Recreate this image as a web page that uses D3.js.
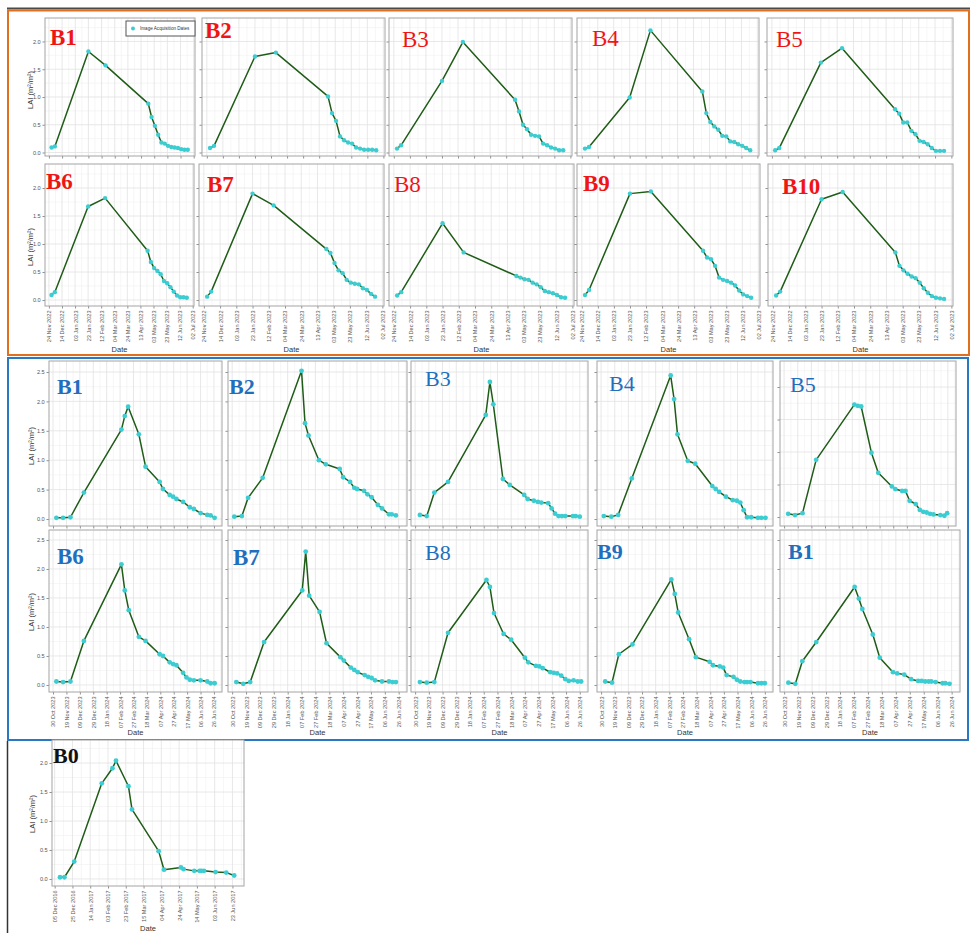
<!DOCTYPE html>
<html><head><meta charset="utf-8">
<script src="https://cdn.jsdelivr.net/npm/d3@7"></script>
<style>body{margin:0;background:#fff}svg{display:block}</style>
</head><body>
<svg id="c" width="970" height="933"></svg>
<script>
// ---------- DATA ----------
// Season 2022-2023 (red panels): shared image acquisition dates
const topDates = ["2022-11-28","2022-12-03","2023-01-23","2023-02-18","2023-04-24","2023-04-29","2023-05-04","2023-05-09","2023-05-14","2023-05-19","2023-05-24","2023-05-29","2023-06-03","2023-06-08","2023-06-13","2023-06-18","2023-06-23"];
const topTicks = ["2022-11-24","2022-12-14","2023-01-03","2023-01-23","2023-02-12","2023-03-04","2023-03-24","2023-04-13","2023-05-03","2023-05-23","2023-06-12","2023-07-02"];
const topB1  = [0.09,0.11,1.82,1.57,0.88,0.64,0.48,0.32,0.18,0.16,0.12,0.10,0.09,0.08,0.06,0.05,0.05];
const topB2  = [0.08,0.12,1.73,1.80,1.01,0.71,0.57,0.29,0.22,0.18,0.16,0.09,0.07,0.05,0.05,0.05,0.04];
const topB3  = [0.07,0.13,1.29,1.99,0.95,0.74,0.50,0.42,0.32,0.30,0.29,0.16,0.13,0.09,0.07,0.04,0.04];
const topB4  = [0.07,0.10,0.99,2.20,1.10,0.71,0.55,0.47,0.41,0.30,0.29,0.20,0.19,0.15,0.12,0.08,0.04];
const topB5  = [0.04,0.08,1.62,1.88,0.78,0.70,0.54,0.54,0.39,0.33,0.21,0.19,0.15,0.08,0.03,0.03,0.03];
const topB6  = [0.09,0.14,1.67,1.82,0.88,0.68,0.57,0.52,0.46,0.34,0.30,0.23,0.15,0.08,0.05,0.05,0.04];
const topB7  = [0.06,0.15,1.90,1.69,0.91,0.84,0.66,0.53,0.48,0.36,0.31,0.29,0.28,0.21,0.18,0.11,0.06];
const topB8  = [0.08,0.14,1.37,0.85,0.43,0.40,0.37,0.36,0.31,0.28,0.23,0.16,0.14,0.12,0.09,0.05,0.04];
const topB9  = [0.09,0.18,1.90,1.94,0.88,0.76,0.73,0.61,0.40,0.36,0.34,0.31,0.26,0.17,0.10,0.07,0.04];
const topB10 = [0.08,0.15,1.80,1.93,0.85,0.61,0.53,0.47,0.42,0.39,0.31,0.21,0.13,0.07,0.04,0.03,0.02];

// Season 2023-2024 (blue panels)
const midTicks = ["2023-10-30","2023-11-19","2023-12-09","2023-12-29","2024-01-18","2024-02-07","2024-02-27","2024-03-18","2024-04-07","2024-04-27","2024-05-17","2024-06-06","2024-06-26"];
const midB1Dates = ["2023-11-04","2023-11-14","2023-11-25","2023-12-15","2024-02-09","2024-02-14","2024-02-19","2024-03-06","2024-03-16","2024-04-06","2024-04-11","2024-04-21","2024-04-26","2024-05-01","2024-05-11","2024-05-21","2024-05-27","2024-06-06","2024-06-16","2024-06-21","2024-06-27"];
const midB1 = [0.02,0.02,0.03,0.45,1.52,1.75,1.91,1.44,0.89,0.63,0.51,0.41,0.38,0.34,0.29,0.20,0.17,0.10,0.07,0.06,0.02];
const midB2Dates = ["2023-11-02","2023-11-13","2023-11-22","2023-12-13","2024-02-07","2024-02-12","2024-02-17","2024-03-03","2024-03-13","2024-04-02","2024-04-07","2024-04-17","2024-04-23","2024-04-27","2024-05-07","2024-05-12","2024-05-18","2024-05-27","2024-06-02","2024-06-12","2024-06-16","2024-06-22"];
const midB2 = [0.04,0.05,0.36,0.70,2.52,1.63,1.42,1.00,0.93,0.85,0.71,0.63,0.53,0.51,0.48,0.42,0.37,0.24,0.18,0.08,0.08,0.06];
const midB3Dates = ["2023-11-06","2023-11-16","2023-11-27","2023-12-17","2024-02-10","2024-02-16","2024-02-21","2024-03-06","2024-03-16","2024-04-06","2024-04-11","2024-04-20","2024-04-26","2024-05-01","2024-05-11","2024-05-16","2024-05-21","2024-05-26","2024-05-31","2024-06-05","2024-06-16","2024-06-20","2024-06-26"];
const midB3 = [0.07,0.05,0.45,0.63,1.77,2.33,1.95,0.68,0.58,0.41,0.34,0.31,0.29,0.28,0.27,0.18,0.09,0.05,0.05,0.05,0.05,0.05,0.04];
const midB4Dates = ["2023-11-03","2023-11-14","2023-11-24","2023-12-14","2024-02-09","2024-02-14","2024-02-19","2024-03-05","2024-03-16","2024-04-10","2024-04-15","2024-04-20","2024-04-30","2024-05-10","2024-05-16","2024-05-21","2024-05-26","2024-05-31","2024-06-06","2024-06-16","2024-06-21","2024-06-27"];
const midB4 = [0.05,0.04,0.07,0.69,2.44,2.04,1.44,0.99,0.94,0.56,0.51,0.46,0.38,0.32,0.31,0.28,0.15,0.03,0.03,0.02,0.02,0.02];
const midB5Dates = ["2023-11-05","2023-11-15","2023-11-26","2023-12-16","2024-02-10","2024-02-15","2024-02-20","2024-03-06","2024-03-16","2024-04-05","2024-04-10","2024-04-20","2024-04-25","2024-05-01","2024-05-10","2024-05-16","2024-05-21","2024-05-26","2024-05-31","2024-06-05","2024-06-15","2024-06-21","2024-06-25"];
const midB5 = [0.05,0.03,0.06,0.88,1.73,1.71,1.70,0.99,0.68,0.47,0.43,0.40,0.40,0.25,0.20,0.11,0.08,0.07,0.05,0.04,0.03,0.02,0.06];
const midB6Dates = ["2023-11-04","2023-11-14","2023-11-25","2023-12-15","2024-02-09","2024-02-14","2024-02-20","2024-03-06","2024-03-16","2024-04-06","2024-04-11","2024-04-21","2024-04-26","2024-05-01","2024-05-11","2024-05-16","2024-05-21","2024-05-27","2024-06-06","2024-06-16","2024-06-21","2024-06-27"];
const midB6 = [0.06,0.05,0.06,0.76,2.08,1.63,1.29,0.83,0.76,0.53,0.50,0.39,0.36,0.34,0.21,0.13,0.09,0.08,0.08,0.06,0.03,0.03];
const midB7Dates = ["2023-11-05","2023-11-15","2023-11-25","2023-12-15","2024-02-08","2024-02-13","2024-02-18","2024-03-04","2024-03-14","2024-04-03","2024-04-08","2024-04-18","2024-04-23","2024-04-28","2024-05-08","2024-05-13","2024-05-18","2024-05-23","2024-06-02","2024-06-12","2024-06-17","2024-06-22"];
const midB7 = [0.05,0.02,0.05,0.74,1.63,2.30,1.54,1.26,0.72,0.48,0.42,0.30,0.26,0.22,0.17,0.14,0.12,0.08,0.06,0.06,0.05,0.05];
const midB8Dates = ["2023-11-06","2023-11-16","2023-11-27","2023-12-17","2024-02-11","2024-02-16","2024-02-22","2024-03-07","2024-03-18","2024-04-07","2024-04-12","2024-04-23","2024-04-28","2024-05-03","2024-05-14","2024-05-19","2024-05-24","2024-05-30","2024-06-05","2024-06-10","2024-06-17","2024-06-23","2024-06-28"];
const midB8 = [0.05,0.04,0.05,0.90,1.81,1.69,1.24,0.88,0.78,0.47,0.39,0.33,0.32,0.29,0.22,0.21,0.20,0.16,0.10,0.07,0.08,0.06,0.06];
const midB9Dates = ["2023-11-05","2023-11-15","2023-11-25","2023-12-15","2024-02-10","2024-02-15","2024-02-20","2024-03-07","2024-03-17","2024-04-06","2024-04-11","2024-04-21","2024-04-26","2024-05-01","2024-05-11","2024-05-16","2024-05-21","2024-05-27","2024-05-31","2024-06-05","2024-06-16","2024-06-21","2024-06-26"];
const midB9 = [0.06,0.04,0.53,0.70,1.82,1.57,1.25,0.79,0.48,0.40,0.34,0.32,0.30,0.17,0.14,0.09,0.06,0.05,0.05,0.05,0.03,0.03,0.03];
const midB1bDates = ["2023-11-05","2023-11-15","2023-11-25","2023-12-15","2024-02-08","2024-02-14","2024-02-19","2024-03-05","2024-03-15","2024-04-03","2024-04-09","2024-04-19","2024-04-29","2024-05-09","2024-05-14","2024-05-19","2024-05-24","2024-05-28","2024-06-03","2024-06-13","2024-06-17","2024-06-23"];
const midB1b = [0.04,0.02,0.41,0.74,1.69,1.49,1.31,0.87,0.47,0.22,0.20,0.18,0.10,0.07,0.07,0.06,0.06,0.06,0.05,0.03,0.03,0.02];

// Season 2016-2017 (B0)
const b0Ticks = ["2016-12-05","2016-12-25","2017-01-14","2017-02-03","2017-02-23","2017-03-15","2017-04-04","2017-04-24","2017-05-14","2017-06-03","2017-06-23"];
const b0Dates = ["2016-12-11","2016-12-16","2016-12-27","2017-01-27","2017-02-08","2017-02-12","2017-02-26","2017-03-02","2017-04-01","2017-04-07","2017-04-26","2017-04-29","2017-05-11","2017-05-17","2017-05-19","2017-05-22","2017-06-04","2017-06-16","2017-06-25"];
const b0Vals = [0.03,0.03,0.30,1.65,1.91,2.04,1.60,1.20,0.48,0.16,0.20,0.17,0.14,0.14,0.14,0.14,0.12,0.11,0.06];

const lai5 = [0,0.5,1,1.5,2];
const lai6 = [0,0.5,1,1.5,2,2.5];

// ---------- DRAWING ----------
const svg = d3.select("#c");
const P = d3.timeParse("%Y-%m-%d");
const fmt = d3.timeFormat("%d %b %Y");
const SANS = "'Liberation Sans', Arial, sans-serif";
const SERIF = "'Liberation Serif', 'Times New Roman', serif";
const RED = "#f01515", BLUE = "#1f6fbf";

// section frames
svg.append("line").attr("x1",7).attr("x2",970).attr("y1",8.5).attr("y2",8.5).attr("stroke","#4a4a4a").attr("stroke-width",2);
svg.append("rect").attr("x",8).attr("y",10.5).attr("width",961).attr("height",344.5).attr("fill","none").attr("stroke","#e0701f").attr("stroke-width",2);
svg.append("rect").attr("x",8).attr("y",358).attr("width",960).attr("height",382).attr("fill","none").attr("stroke","#2b78c2").attr("stroke-width",2);
svg.append("line").attr("x1",7.5).attr("x2",7.5).attr("y1",741).attr("y2",933).attr("stroke","#333").attr("stroke-width",1.5);

function drawPanel(o) {
  const x = d3.scaleTime().domain(o.xDom.map(P)).range([o.x0, o.x1]);
  const y = d3.scaleLinear().domain(o.yDom).range([o.y1, o.y0]);
  const g = svg.append("g");
  g.append("rect").attr("x",o.x0).attr("y",o.y0).attr("width",o.x1-o.x0).attr("height",o.y1-o.y0).attr("fill","#fff");
  const xt = o.xTicks.map(P);
  const [d0,d1] = x.domain();
  const xm = xt.map(t => d3.timeDay.offset(t,-10)).concat([d3.timeDay.offset(xt[xt.length-1],10)]).filter(t => t>=d0 && t<=d1);
  const ym = o.yTicks.map(v => v-0.25).concat([o.yTicks[o.yTicks.length-1]+0.25]).filter(v => v>=o.yDom[0] && v<=o.yDom[1]);
  const grid = g.append("g");
  grid.selectAll(".xm").data(xm).join("line").attr("x1",d=>x(d)).attr("x2",d=>x(d)).attr("y1",o.y0).attr("y2",o.y1).attr("stroke","#f0f0f0").attr("stroke-width",0.6);
  grid.selectAll(".ym").data(ym).join("line").attr("class","ym").attr("y1",d=>y(d)).attr("y2",d=>y(d)).attr("x1",o.x0).attr("x2",o.x1).attr("stroke","#f0f0f0").attr("stroke-width",0.6);
  grid.selectAll(".xM").data(xt).join("line").attr("class","xM").attr("x1",d=>x(d)).attr("x2",d=>x(d)).attr("y1",o.y0).attr("y2",o.y1).attr("stroke","#e2e2e2").attr("stroke-width",0.8);
  grid.selectAll(".yM").data(o.yTicks).join("line").attr("class","yM").attr("y1",d=>y(d)).attr("y2",d=>y(d)).attr("x1",o.x0).attr("x2",o.x1).attr("stroke","#e2e2e2").attr("stroke-width",0.8);

  // axes
  const gx = g.append("g").attr("transform",`translate(0,${o.y1})`)
    .call(d3.axisBottom(x).tickValues(xt).tickSize(2.5).tickFormat(o.xLabels ? fmt : ""));
  gx.attr("font-family",SANS).attr("font-size",5.6);
  gx.select(".domain").remove();
  gx.selectAll("line").attr("stroke","#444").attr("stroke-width",0.6);
  if (o.xLabels) {
    gx.selectAll("text").attr("transform","rotate(-90)").attr("x",-4.5).attr("y",0).attr("dy","0.35em")
      .attr("text-anchor","end").attr("fill","#555");
  }
  const gy = g.append("g").attr("transform",`translate(${o.x0},0)`)
    .call(d3.axisLeft(y).tickValues(o.yTicks).tickSize(2.5).tickPadding(1.8).tickFormat(o.yLabels ? d3.format(".1f") : ""));
  gy.attr("font-family",SANS).attr("font-size",5.6);
  gy.select(".domain").remove();
  gy.selectAll("line").attr("stroke","#444").attr("stroke-width",0.6);
  gy.selectAll("text").attr("fill","#555");

  g.append("rect").attr("x",o.x0).attr("y",o.y0).attr("width",o.x1-o.x0).attr("height",o.y1-o.y0)
    .attr("fill","none").attr("stroke","#a4a4a4").attr("stroke-width",1);

  // data
  const pts = o.dates.map((d,i) => ({d:P(d), v:o.vals[i]}));
  g.append("path").datum(pts).attr("fill","none").attr("stroke","#1f5c17").attr("stroke-width",1.5)
    .attr("stroke-linejoin","round")
    .attr("d", d3.line().x(p=>x(p.d)).y(p=>y(p.v)));
  g.selectAll(".pt").data(pts).join("circle").attr("class","pt")
    .attr("cx",p=>x(p.d)).attr("cy",p=>y(p.v)).attr("r",o.r||2.2).attr("fill","#3ccdd2");

  // titles
  if (o.yTitle) {
    g.append("text").attr("transform",`translate(${o.yTitle[0]+2.6},${o.yTitle[1]}) rotate(-90)`)
      .attr("text-anchor","middle").attr("font-family",SANS).attr("font-size",7.5).attr("fill","#333")
      .text("LAI (m²/m²)");
  }
  if (o.dateY) {
    g.append("text").attr("x",(o.x0+o.x1)/2).attr("y",o.dateY).attr("text-anchor","middle")
      .attr("font-family",SANS).attr("font-size",7.5).attr("fill","#333").text("Date");
  }
  g.append("text").attr("x",o.lx).attr("y",o.ly).attr("font-family",SERIF).attr("font-size",o.fs)
    .attr("font-weight",o.bold?"bold":"normal").attr("fill",o.color).text(o.label);
  return g;
}

const topXDom = ["2022-11-18","2023-07-04"];
const midXDom = ["2023-10-24","2024-07-08"];
const b0XDom = ["2016-12-02","2017-07-06"];

const T1 = {y0:18,y1:156,yDom:[-0.063,2.423],yTicks:lai5,xDom:topXDom,xTicks:topTicks,dates:topDates,xLabels:false,color:RED,fs:23};
const T2 = {y0:164,y1:306,yDom:[-0.107,2.429],yTicks:lai5,xDom:topXDom,xTicks:topTicks,dates:topDates,xLabels:true,dateY:352,color:RED,fs:23};
const M1 = {y0:361,y1:526,yDom:[-0.119,2.687],yTicks:lai6,xDom:midXDom,xTicks:midTicks,xLabels:false,color:BLUE,fs:22,r:2.4};
const M2 = {y0:530,y1:692,yDom:[-0.121,2.672],yTicks:lai6,xDom:midXDom,xTicks:midTicks,xLabels:true,dateY:735,color:BLUE,fs:22,r:2.4};

const panels = [
  {...T1,x0:45,x1:195,vals:topB1,label:"B1",lx:50,ly:45,bold:true,yLabels:true,yTitle:[30,90]},
  {...T1,x0:202,x1:385,vals:topB2,label:"B2",lx:205,ly:38,bold:true},
  {...T1,x0:389,x1:572,vals:topB3,label:"B3",lx:402,ly:47},
  {...T1,x0:577,x1:759,vals:topB4,label:"B4",lx:592,ly:46},
  {...T1,x0:767,x1:953,vals:topB5,label:"B5",lx:776,ly:47},
  {...T2,x0:45,x1:194,vals:topB6,label:"B6",lx:46,ly:189,bold:true,yLabels:true,yTitle:[30,247]},
  {...T2,x0:199,x1:384,vals:topB7,label:"B7",lx:207,ly:192,bold:true},
  {...T2,x0:389,x1:574,vals:topB8,label:"B8",lx:394,ly:192},
  {...T2,x0:577,x1:760,vals:topB9,label:"B9",lx:583,ly:191,bold:true},
  {...T2,x0:768,x1:953,vals:topB10,label:"B10",lx:782,ly:194,bold:true},
  {...M1,x0:49,x1:222,dates:midB1Dates,vals:midB1,label:"B1",lx:57,ly:394,bold:true,yLabels:true,yTitle:[31,446]},
  {...M1,x0:228,x1:407,dates:midB2Dates,vals:midB2,label:"B2",lx:229,ly:394,bold:true},
  {...M1,x0:411,x1:588,dates:midB3Dates,vals:midB3,label:"B3",lx:425,ly:386},
  {...M1,x0:597,x1:773,dates:midB4Dates,vals:midB4,label:"B4",lx:609,ly:391},
  {...M1,x0:780,x1:956,yDom:[-0.138,2.4],yTicks:lai5,dates:midB5Dates,vals:midB5,label:"B5",lx:790,ly:392},
  {...M2,x0:49,x1:222,dates:midB6Dates,vals:midB6,label:"B6",lx:57,ly:564,bold:true,fs:23,yLabels:true,yTitle:[31,612]},
  {...M2,x0:228,x1:407,dates:midB7Dates,vals:midB7,label:"B7",lx:233,ly:565,bold:true,fs:23},
  {...M2,x0:411,x1:588,dates:midB8Dates,vals:midB8,label:"B8",lx:425,ly:560},
  {...M2,x0:597,x1:773,dates:midB9Dates,vals:midB9,label:"B9",lx:597,ly:559,bold:true},
  {...M2,x0:780,x1:960,dates:midB1bDates,vals:midB1b,label:"B1",lx:788,ly:559,bold:true},
  {x0:52,x1:244,y0:740,y1:886,yDom:[-0.121,2.397],yTicks:lai5,xDom:b0XDom,xTicks:b0Ticks,dates:b0Dates,vals:b0Vals,
   xLabels:true,yLabels:true,dateY:931,yTitle:[32,814],label:"B0",lx:53,ly:763,bold:true,color:"#111",fs:22,r:2.4}
];
panels.forEach(drawPanel);

// legend in first panel
const lg = svg.append("g");
lg.append("rect").attr("x",126).attr("y",21).attr("width",69).attr("height",15).attr("fill","#fff").attr("stroke","#555").attr("stroke-width",1);
lg.append("circle").attr("cx",133).attr("cy",28.5).attr("r",2).attr("fill","#3ccdd2");
lg.append("text").attr("x",140).attr("y",30.3).attr("font-family",SANS).attr("font-size",4.6).attr("fill","#333").text("Image Acquisition Dates");
</script>
</body></html>
